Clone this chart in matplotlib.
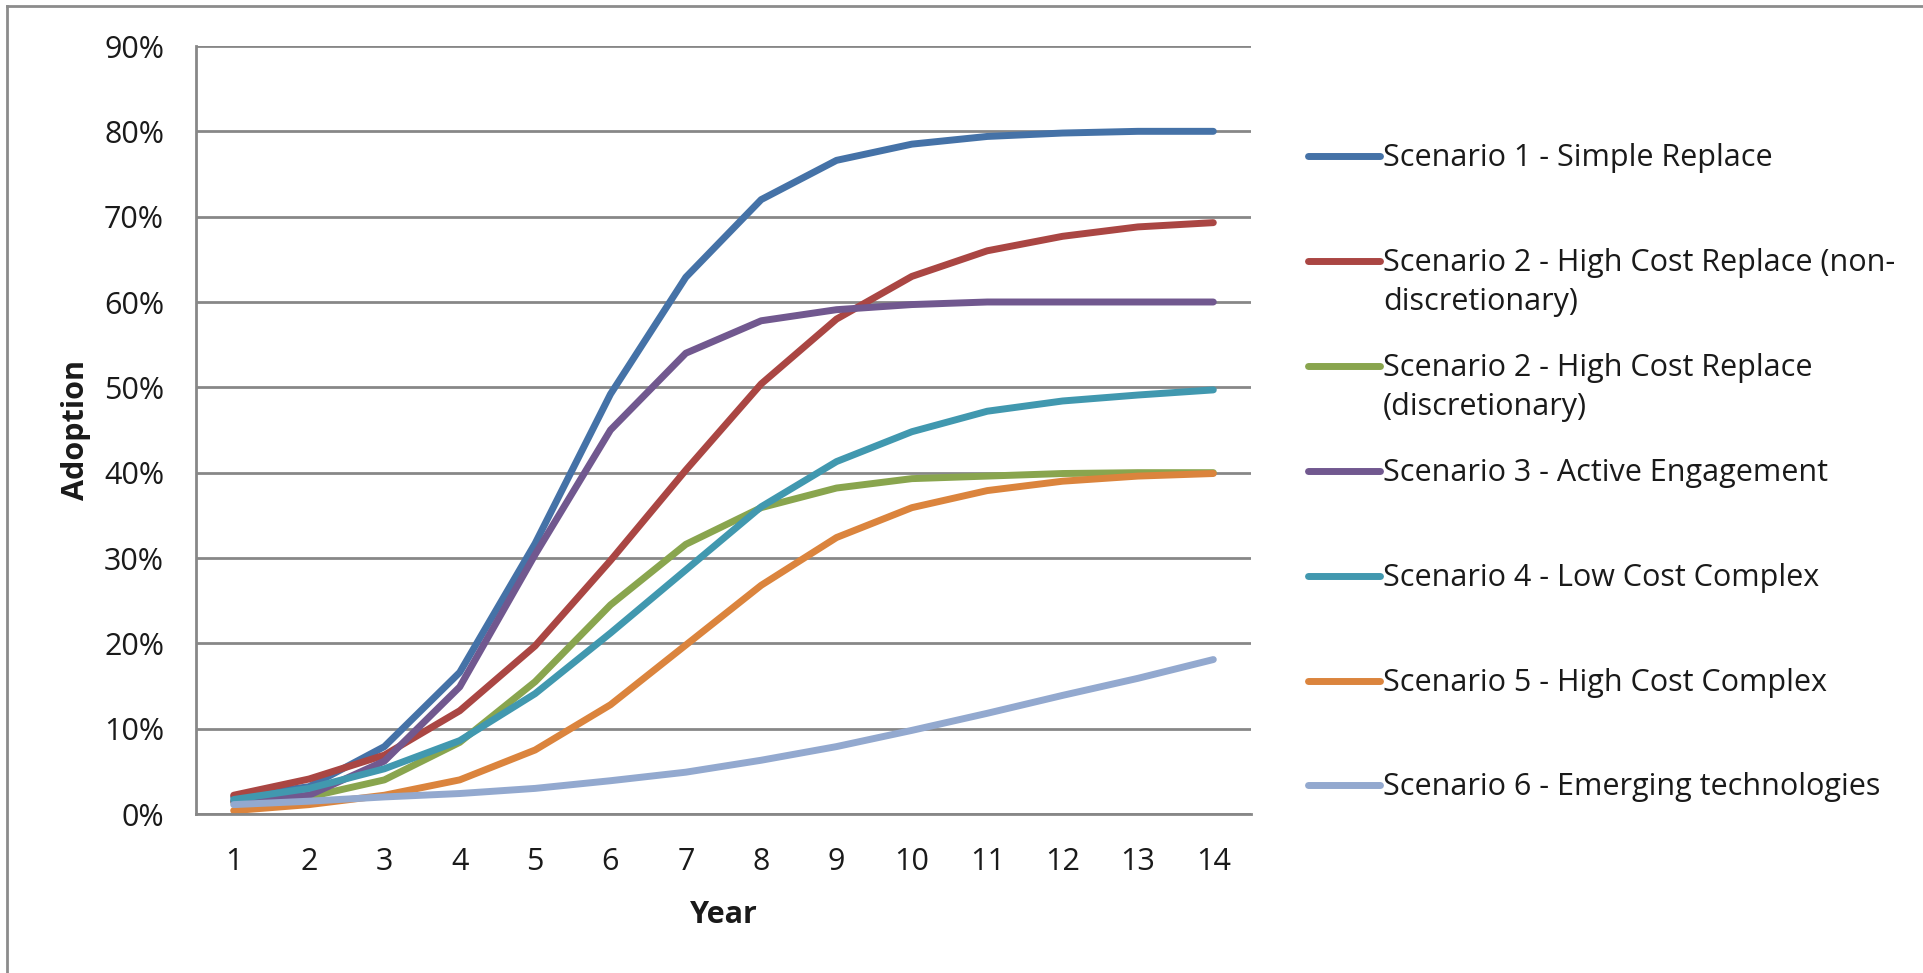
import numpy as np
import matplotlib.pyplot as plt
from matplotlib.lines import Line2D
from matplotlib.ticker import PercentFormatter

plt.rcParams['font.family'] = ['Open Sans', 'DejaVu Sans']

years = list(range(1, 15))

labels = [
    'Scenario 1 - Simple Replace',
    'Scenario 2 - High Cost Replace (non-\ndiscretionary)',
    'Scenario 2 - High Cost Replace\n(discretionary)',
    'Scenario 3 - Active Engagement',
    'Scenario 4 - Low Cost Complex',
    'Scenario 5 - High Cost Complex',
    'Scenario 6 - Emerging technologies',
]
colors = ['#4572A7', '#AA4643', '#89A54E', '#71588F', '#4198AF', '#DB843D', '#93A9CF']

# adoption in %
s1 = [2.0, 3.2, 7.9, 16.6, 31.7, 49.2, 62.9, 72.0, 76.6, 78.5, 79.4, 79.8, 80.0, 80.0]
s2a = [2.2, 4.1, 6.9, 12.1, 19.7, 29.7, 40.3, 50.4, 58.0, 63.0, 66.0, 67.7, 68.8, 69.3]
s2b = [1.4, 2.0, 4.0, 8.4, 15.5, 24.5, 31.6, 35.9, 38.2, 39.3, 39.6, 39.9, 40.0, 40.0]
s3 = [1.5, 2.2, 6.2, 14.9, 30.4, 45.0, 54.0, 57.8, 59.1, 59.7, 60.0, 60.0, 60.0, 60.0]
s4 = [1.7, 3.0, 5.3, 8.6, 14.1, 21.2, 28.6, 36.0, 41.3, 44.8, 47.2, 48.4, 49.1, 49.7]
s5 = [0.4, 1.1, 2.2, 4.0, 7.5, 12.8, 19.8, 26.8, 32.4, 35.9, 37.9, 39.0, 39.6, 39.9]
s6 = [1.1, 1.5, 2.0, 2.4, 3.0, 3.9, 4.9, 6.3, 7.9, 9.8, 11.8, 13.9, 15.9, 18.1]
series = [s1, s2a, s2b, s3, s4, s5, s6]

W, H = 1923, 973
fig = plt.figure(figsize=(W / 100, H / 100), dpi=100)
ax = fig.add_axes([196 / W, 1 - 814 / H, (1251 - 196) / W, (814 - 46) / H])

grid_c = '#878787'
txt_c = '#1a1a1a'
fs = 22

for vals, c in zip(series, colors):
    ax.plot(years, vals, color=c, lw=5, solid_capstyle='round', solid_joinstyle='round')

ax.set_xlim(0.5, 14.5)
ax.set_ylim(0, 90)
ax.set_xticks(years)
ax.set_yticks(np.arange(0, 91, 10))
ax.yaxis.set_major_formatter(PercentFormatter(decimals=0))
ax.grid(axis='y', color=grid_c, lw=2)
ax.set_axisbelow(True)
for s in ['top', 'right']:
    ax.spines[s].set_visible(False)
for s in ['left', 'bottom']:
    ax.spines[s].set_color(grid_c)
    ax.spines[s].set_linewidth(2)
ax.tick_params(axis='both', length=0, labelsize=fs, colors=txt_c)
ax.tick_params(axis='y', pad=23)
ax.tick_params(axis='x', pad=24)
ax.set_xlabel('Year', fontsize=fs, fontweight='bold', labelpad=16, color=txt_c)
ax.set_ylabel('Adoption', fontsize=fs, fontweight='bold', labelpad=9, color=txt_c)

# legend drawn by hand so the handle sits at the first text line
for i, (lab, c) in enumerate(zip(labels, colors)):
    yc = 1 - (156 + i * 104.9) / H
    fig.add_artist(Line2D([1308 / W, 1380 / W], [yc, yc], color=c, lw=5,
                          solid_capstyle='round'))
    fig.text(1383 / W, yc + 13 / H, lab, fontsize=fs, va='top', ha='left',
             linespacing=1.4, color=txt_c)

# outer chart border (left and top)
fig.add_artist(Line2D([7 / W, 7 / W], [0, 1 - 6 / H], color='#8c8c8c', lw=2))
fig.add_artist(Line2D([7 / W, 1], [1 - 6 / H, 1 - 6 / H], color='#8c8c8c', lw=2))

fig.savefig('out.png', dpi=100)
